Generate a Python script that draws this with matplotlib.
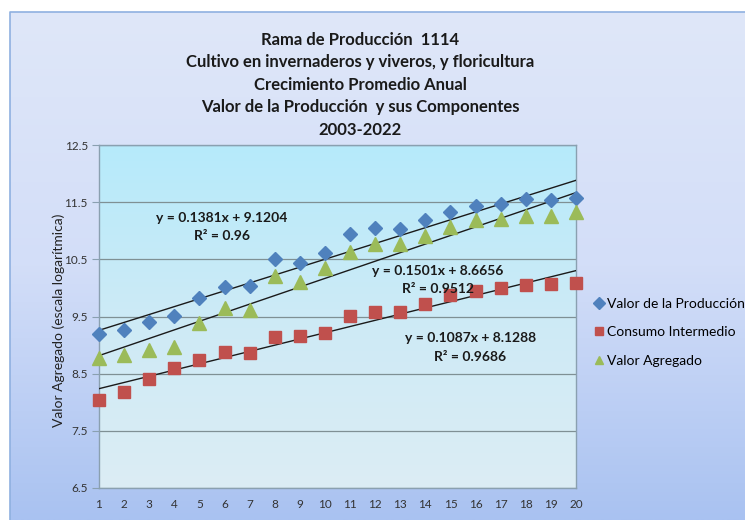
import numpy as np
import matplotlib
matplotlib.use("Agg")
import matplotlib.pyplot as plt
from matplotlib.colors import LinearSegmentedColormap

plt.rcParams['font.family'] = ['Lato', 'DejaVu Sans']

# Data (x = year index 1..20, 2003-2022)
years_idx = list(range(1, 21))
valor_produccion = [9.19, 9.26, 9.40, 9.51, 9.82, 10.02, 10.03, 10.51, 10.44, 10.61,
                    10.94, 11.05, 11.03, 11.19, 11.33, 11.43, 11.47, 11.56, 11.54, 11.57]
consumo_intermedio = [8.04, 8.18, 8.40, 8.60, 8.74, 8.88, 8.87, 9.15, 9.16, 9.22,
                      9.51, 9.58, 9.58, 9.71, 9.88, 9.95, 9.99, 10.05, 10.06, 10.08]
valor_agregado = [8.77, 8.83, 8.91, 8.97, 9.39, 9.64, 9.61, 10.20, 10.11, 10.35,
                  10.63, 10.77, 10.77, 10.90, 11.06, 11.19, 11.20, 11.26, 11.26, 11.33]

# Trend line coefficients (slope, intercept, R2) as printed on the chart
trend_vp = (0.1381, 9.1204, "0.96")
trend_ci = (0.1087, 8.1288, "0.9686")
trend_va = (0.1501, 8.6656, "0.9512")

series_names = ["Valor de la Producción", "Consumo Intermedio", "Valor Agregado"]
y_ticks = [6.5, 7.5, 8.5, 9.5, 10.5, 11.5, 12.5]

title_lines = ["Rama de Producción  1114",
               "Cultivo en invernaderos y viveros, y floricultura",
               "Crecimiento Promedio Anual",
               "Valor de la Producción  y sus Componentes",
               "2003-2022"]

W, H = 745, 520
fig = plt.figure(figsize=(W / 100, H / 100), dpi=100)
fig.patch.set_facecolor("white")

# chart area background gradient
bg = fig.add_axes([0, 0, 1, 1], zorder=-10)
bg.set_xlim(0, W)
bg.set_ylim(H, 0)
bg.axis("off")
cm_bg = LinearSegmentedColormap.from_list("bg", ["#dfe7f9", "#d3def8", "#a9c2f1"])
grad = np.linspace(0, 1, 256).reshape(-1, 1)
bg.imshow(grad, cmap=cm_bg, extent=[10, W, H, 12], aspect="auto")
bg.plot([10, 10, W], [H, 12, 12], color="#8fb0e0", lw=1.2)

ax = fig.add_axes([99 / W, 1 - 488 / H, (576 - 99) / W, (488 - 145) / H])
cm_plot = LinearSegmentedColormap.from_list("pa", ["#b6ebfb", "#cdeaf6", "#dcedf4"])
ax.imshow(grad, cmap=cm_plot, extent=[1, 20, 6.5, 12.5], aspect="auto",
          origin="upper", zorder=0)

ax.set_xlim(1, 20)
ax.set_ylim(6.5, 12.5)
ax.set_yticks(y_ticks)
ax.set_yticklabels([f"{v:.1f}" for v in y_ticks])
ax.set_xticks(years_idx)
ax.grid(axis="y", color="#7f9094", lw=0.9, zorder=1)
for s in ax.spines.values():
    s.set_color("#8aa0b0")
    s.set_linewidth(1.0)
ax.tick_params(axis="y", length=5, color="#8aa0b0", labelsize=8.5, labelcolor="#333333", pad=3)
ax.tick_params(axis="x", length=0, labelsize=8.5, labelcolor="#333333", pad=8)

x = np.array(years_idx)
for slope, icpt, _ in (trend_vp, trend_va, trend_ci):
    ax.plot(x, slope * x + icpt, color="#1a1a1a", lw=1.0, zorder=3)

ax.plot(x, valor_produccion, "D", color="#4f81bd", ms=7.5, mec="#4f81bd",
        clip_on=False, zorder=4, label=series_names[0])
ax.plot(x, consumo_intermedio, "s", color="#c0504d", ms=9, mec="#c0504d",
        clip_on=False, zorder=4, label=series_names[1])
ax.plot(x, valor_agregado, "^", color="#9bbb59", ms=10, mec="#9bbb59",
        clip_on=False, zorder=4, label=series_names[2])

ax.set_ylabel("Valor Agregado (escala logarítmica)", fontsize=10, color="#222222")
ax.yaxis.set_label_coords(-0.072, 0.49)

eq_kw = dict(fontsize=10, fontweight="bold", ha="center", va="center",
             color="#1a1a1a", zorder=5)
for (slope, icpt, r2), (tx, ty) in ((trend_vp, (5.9, 11.22)), (trend_va, (14.5, 10.30)),
                                    (trend_ci, (15.8, 9.12))):
    ax.text(tx, ty, f"y = {slope:.4f}x + {icpt:.4f}", **eq_kw)
    ax.text(tx, ty - 0.32, f"R² = {r2}", **eq_kw)

for i, line in enumerate(title_lines):
    fig.text(360 / W, 1 - (40 + i * 22.5) / H, line, ha="center", va="center",
             fontsize=12, fontweight="bold", color="#1a1a1a")

leg = fig.legend(loc="upper left", bbox_to_anchor=(590 / W, 1 - 292 / H),
                 frameon=False, fontsize=10, handlelength=0.5, handletextpad=0.3,
                 labelspacing=1.2, borderaxespad=0)
for h in leg.legend_handles:
    h.set_markersize(6)

fig.savefig("out.png", dpi=100)
